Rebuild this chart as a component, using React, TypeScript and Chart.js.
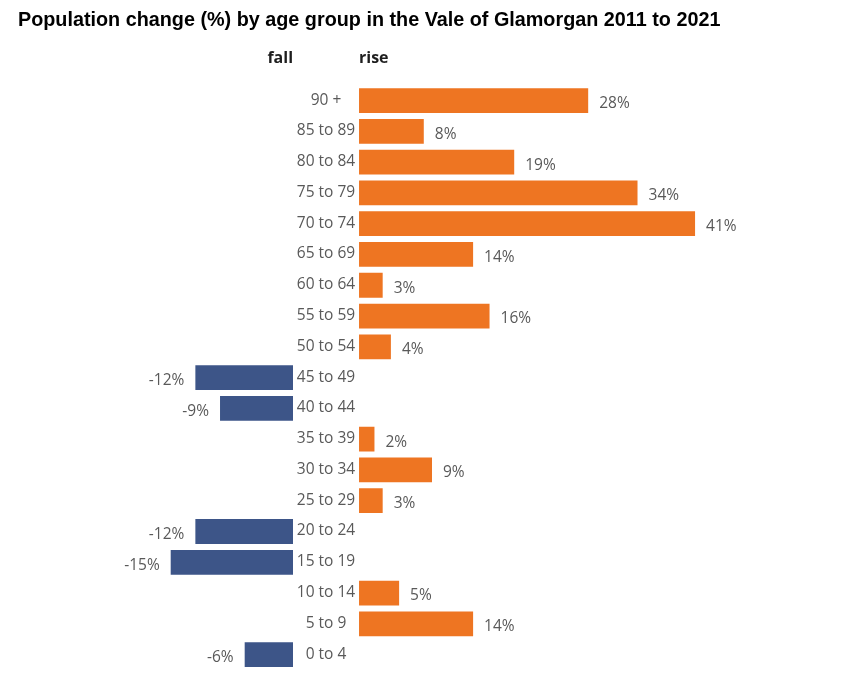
import { useEffect, useRef } from "react";
import { Chart, registerables } from "chart.js";

Chart.register(...registerables);

const TITLE = "Population change (%) by age group in the Vale of Glamorgan 2011 to 2021";
const FALL_LABEL = "fall";
const RISE_LABEL = "rise";

const AGE_GROUPS = [
  "90 +", "85 to 89", "80 to 84", "75 to 79", "70 to 74", "65 to 69", "60 to 64",
  "55 to 59", "50 to 54", "45 to 49", "40 to 44", "35 to 39", "30 to 34", "25 to 29",
  "20 to 24", "15 to 19", "10 to 14", "5 to 9", "0 to 4",
];
const CHANGE = [28, 8, 19, 34, 41, 14, 3, 16, 4, -12, -9, 2, 9, 3, -12, -15, 5, 14, -6];

const RISE_VALUES = CHANGE.map((v) => (v >= 0 ? v : null));
const FALL_VALUES = CHANGE.map((v) => (v < 0 ? v : null));

const FALL_MIN = -20;
const RISE_MAX = 48;
const GAP = 8.03;

const ORANGE = "#EE7522";
const BLUE = "#3D5588";
const TEXT = "#595959";

const labelPlugin = {
  id: "pyramidLabels",
  afterDatasetsDraw(chart: any) {
    const { ctx } = chart;
    const y = chart.scales.y;
    const xf = chart.scales.xFall;
    const xr = chart.scales.xRise;
    const fallZero = xf.getPixelForValue(0);
    const riseZero = xr.getPixelForValue(0);
    const mid = (fallZero + riseZero) / 2;
    ctx.save();
    ctx.font = '15.5px "Open Sans"';
    ctx.fillStyle = TEXT;
    ctx.textBaseline = "middle";
    AGE_GROUPS.forEach((g, i) => {
      const py = y.getPixelForValue(i);
      ctx.textAlign = "center";
      ctx.fillText(g, mid, py - 0.5);
      const v = CHANGE[i];
      if (v >= 0) {
        ctx.textAlign = "left";
        ctx.fillText(v + "%", xr.getPixelForValue(v) + 10, py + 3);
      } else {
        ctx.textAlign = "right";
        ctx.fillText(v + "%", xf.getPixelForValue(v) - 10, py + 3);
      }
    });
    ctx.textBaseline = "alphabetic";
    ctx.font = 'bold 16px "Open Sans"';
    ctx.fillStyle = "#1e1e1e";
    ctx.textAlign = "right";
    ctx.fillText(FALL_LABEL, fallZero, 55);
    ctx.textAlign = "left";
    ctx.fillText(RISE_LABEL, riseZero, 55);
    ctx.font = 'bold 19.8px "Liberation Sans", Arial, sans-serif';
    ctx.fillStyle = "#000";
    ctx.fillText(TITLE, 10, 18);
    ctx.restore();
  },
};

export default function App() {
  const ref = useRef<HTMLCanvasElement | null>(null);
  useEffect(() => {
    if (!ref.current) return;
    const chart = new Chart(ref.current, {
      type: "bar",
      data: {
        labels: AGE_GROUPS,
        datasets: [
          {
            label: RISE_LABEL,
            data: RISE_VALUES,
            xAxisID: "xRise",
            yAxisID: "y",
            backgroundColor: ORANGE,
            borderColor: "rgba(255,255,255,0.4)",
            borderWidth: 1,
            grouped: false,
            barPercentage: 0.87,
            categoryPercentage: 1,
          } as any,
          {
            label: FALL_LABEL,
            data: FALL_VALUES,
            xAxisID: "xFall",
            yAxisID: "y",
            backgroundColor: BLUE,
            borderColor: "rgba(255,255,255,0.4)",
            borderWidth: 1,
            grouped: false,
            barPercentage: 0.87,
            categoryPercentage: 1,
          } as any,
        ],
      },
      options: {
        indexAxis: "y",
        animation: false,
        responsive: true,
        maintainAspectRatio: false,
        layout: { padding: { left: 120.6, right: 94.4, top: 77.2, bottom: 4 } },
        plugins: { legend: { display: false }, tooltip: { enabled: false }, title: { display: false } },
        scales: {
          y: { type: "category", labels: AGE_GROUPS, display: false, offset: true },
          xFall: {
            type: "linear", position: "bottom", stack: "x", stackWeight: -FALL_MIN, weight: 0,
            min: FALL_MIN, max: 0, display: false,
          },
          xRise: {
            type: "linear", position: "bottom", stack: "x", stackWeight: RISE_MAX + GAP, weight: 1,
            min: -GAP, max: RISE_MAX, display: false,
          },
        } as any,
      },
      plugins: [labelPlugin],
    });
    return () => chart.destroy();
  }, []);
  return (
    <div style={{ position: "relative", width: 840, height: 666 }}>
      <canvas ref={ref} />
    </div>
  );
}
